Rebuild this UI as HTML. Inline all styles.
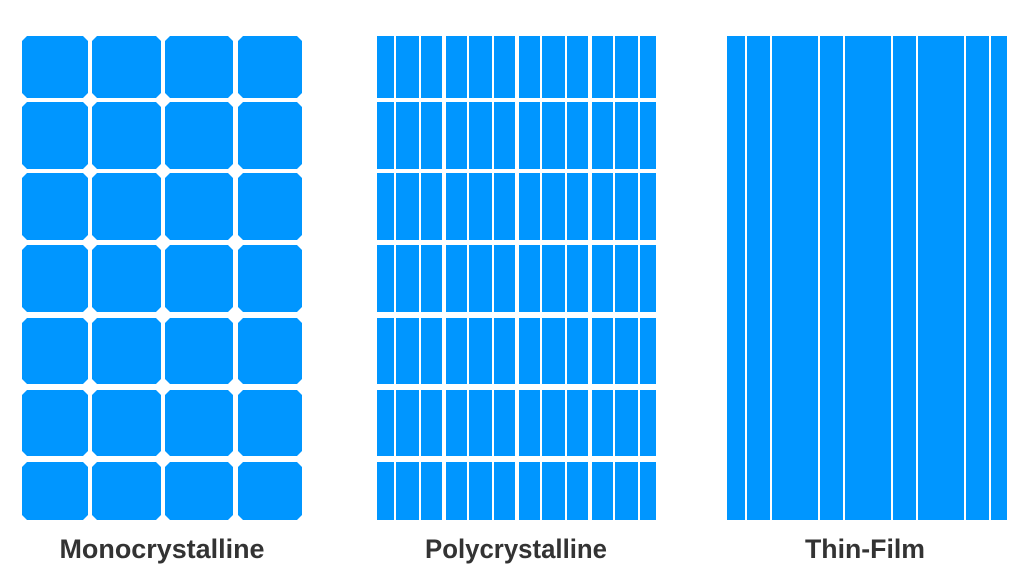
<!DOCTYPE html>
<html><head><meta charset="utf-8"><style>
html,body{margin:0;padding:0;background:#fff;}
svg{display:block;}
</style></head><body>
<svg id="s" width="1024" height="574" viewBox="0 0 1024 574">
<rect width="1024" height="574" fill="#fff"/>
<g id="mono"></g>
<g id="poly"></g>
<g id="thin"></g>
<text x="162" y="558" text-anchor="middle" textLength="205" lengthAdjust="spacingAndGlyphs" font-family="Liberation Sans, sans-serif" font-weight="bold" font-size="27" fill="#333">Monocrystalline</text>
<text x="516" y="558" text-anchor="middle" textLength="182" lengthAdjust="spacingAndGlyphs" font-family="Liberation Sans, sans-serif" font-weight="bold" font-size="27" fill="#333">Polycrystalline</text>
<text x="865" y="558" text-anchor="middle" textLength="120" lengthAdjust="spacingAndGlyphs" font-family="Liberation Sans, sans-serif" font-weight="bold" font-size="27" fill="#333">Thin-Film</text>
</svg>
<script>
const C='#0096ff';
const NS='http://www.w3.org/2000/svg';
const rowTops=[36,102,173,245,318,390,462];
const rowBottoms=[98,169,240,312,384,456,520];
const monoLefts=[22,92,165,238];
const monoRights=[88,161,233,302];
const polyEdges=[[377,394],[396,419],[421,442],[446,467],[469,492],[494,515],[519,540],[542,565],[567,588],[592,613],[615,638],[640,656]];
const thinEdges=[[727,745],[747,770],[772,818],[820,843],[845,891],[893,916],[918,964],[966,989],[991,1007]];
const panelTop=36, panelBottom=520, ch=5;
const mono=document.getElementById('mono');
rowTops.forEach((t,r)=>{const b=rowBottoms[r];
 monoLefts.forEach((l,c)=>{const rr=monoRights[c];
  const p=document.createElementNS(NS,'polygon');
  p.setAttribute('points',[[l+ch,t],[rr-ch,t],[rr,t+ch],[rr,b-ch],[rr-ch,b],[l+ch,b],[l,b-ch],[l,t+ch]].map(a=>a.join(',')).join(' '));
  p.setAttribute('fill',C);
  
  
  mono.appendChild(p);});});
const poly=document.getElementById('poly');
rowTops.forEach((t,r)=>{const b=rowBottoms[r];
 polyEdges.forEach(e=>{const q=document.createElementNS(NS,'rect');
  q.setAttribute('x',e[0]);q.setAttribute('y',t);q.setAttribute('width',e[1]-e[0]);q.setAttribute('height',b-t);q.setAttribute('fill',C);
  
  
  poly.appendChild(q);});});
const thin=document.getElementById('thin');
thinEdges.forEach(e=>{const q=document.createElementNS(NS,'rect');
 q.setAttribute('x',e[0]);q.setAttribute('y',panelTop);q.setAttribute('width',e[1]-e[0]);q.setAttribute('height',panelBottom-panelTop);q.setAttribute('fill',C);
 
 
 thin.appendChild(q);});
</script>
</body></html>
